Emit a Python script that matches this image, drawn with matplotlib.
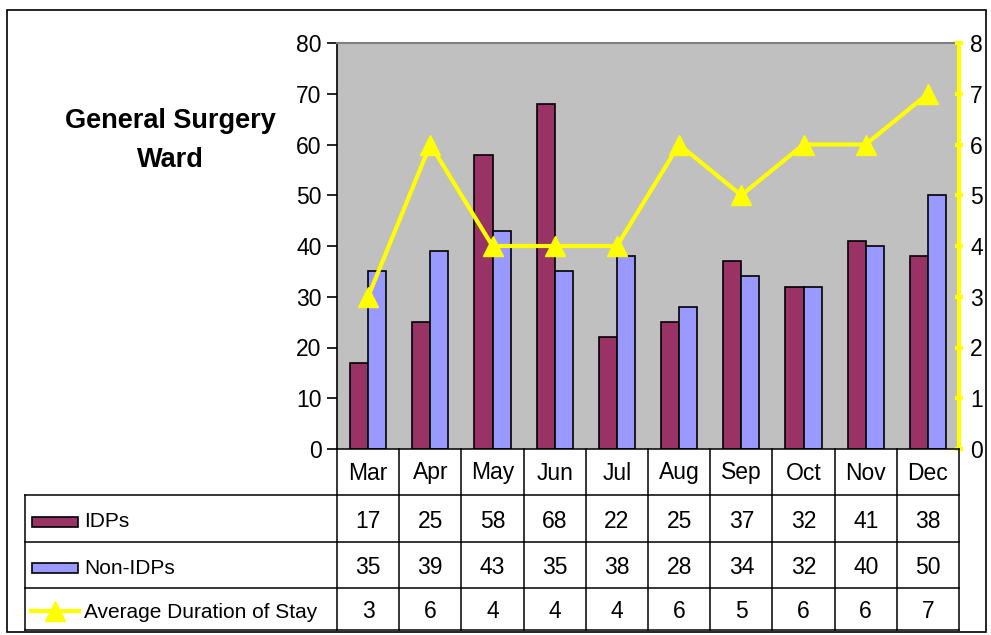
import numpy as np
import matplotlib
matplotlib.use("Agg")
import matplotlib.pyplot as plt
from matplotlib.patches import Rectangle
from matplotlib.lines import Line2D
from matplotlib.transforms import blended_transform_factory

plt.rcParams['font.family'] = ['Liberation Sans', 'DejaVu Sans']

# data
months = ['Mar', 'Apr', 'May', 'Jun', 'Jul', 'Aug', 'Sep', 'Oct', 'Nov', 'Dec']
idps = [17, 25, 58, 68, 22, 25, 37, 32, 41, 38]
non_idps = [35, 39, 43, 35, 38, 28, 34, 32, 40, 50]
avg_stay = [3, 6, 4, 4, 4, 6, 5, 6, 6, 7]

c_idp = '#993366'
c_non = '#9999FF'
c_line = '#FFFF00'

W, H = 991, 635
fig = plt.figure(figsize=(W / 100, H / 100), dpi=100)

def fx(px):
    return px / W
def fy(py):
    return 1 - py / H

# plot area in pixels
x0, x1, y0, y1 = 337, 959, 43, 449
ax = fig.add_axes([fx(x0), fy(y1), fx(x1) - fx(x0), fy(y0) - fy(y1)])
ax.set_facecolor('#C0C0C0')
x = np.arange(len(months))
bw = 0.29
ax.bar(x - bw / 2, idps, bw, color=c_idp, edgecolor='black', lw=1.2, zorder=2)
ax.bar(x + bw / 2, non_idps, bw, color=c_non, edgecolor='black', lw=1.2, zorder=2)
ax.set_xlim(-0.5, len(months) - 0.5)
ax.set_ylim(0, 80)
ax.set_yticks(range(0, 81, 10))
ax.set_xticks([])
ax.tick_params(axis='y', labelsize=16.5, length=7, width=1.2, pad=4)
for s in ['right', 'bottom']:
    ax.spines[s].set_visible(False)
ax.spines['top'].set_color('#808080')
ax.spines['top'].set_linewidth(1.5)
ax.spines['left'].set_linewidth(1.2)

ax2 = ax.twinx()
ax2.plot(x, avg_stay, color=c_line, lw=3, marker='^', ms=15, zorder=3)
ax2.set_ylim(0, 8)
ax2.set_yticks(range(0, 9))
ax2.tick_params(axis='y', labelsize=16.5, length=6, width=3, color=c_line,
                direction='inout', pad=5)
for s in ['left', 'top', 'bottom']:
    ax2.spines[s].set_visible(False)
ax2.spines['right'].set_color(c_line)
ax2.spines['right'].set_linewidth(3)

# title
fig.text(fx(170), fy(140), 'General Surgery\nWard', ha='center', va='center',
         fontsize=19.5, fontweight='bold', linespacing=1.65)

# data table below the chart
tr = blended_transform_factory(ax.transData, fig.transFigure)
row_y = [449, 495, 542, 588, 630]
lab_x = 25

def hline(xa, xb, py):
    fig.add_artist(Line2D([fx(xa), fx(xb)], [fy(py), fy(py)], color='black', lw=1.1))

def vline(px, ya, yb):
    fig.add_artist(Line2D([fx(px), fx(px)], [fy(ya), fy(yb)], color='black', lw=1.1))

hline(x0, x1, row_y[0])
for py in row_y[1:]:
    hline(lab_x, x1, py)
vline(lab_x, row_y[1], row_y[4])
step = (x1 - x0) / len(months)
for i in range(len(months) + 1):
    vline(x0 + i * step, row_y[0], row_y[4])

for i, m in enumerate(months):
    fig.text(i, fy((row_y[0] + row_y[1]) / 2 + 1), m, transform=tr, ha='center',
             va='center', fontsize=16.5)

rows = [('IDPs', idps), ('Non-IDPs', non_idps), ('Average Duration of Stay', avg_stay)]
for r, (name, vals) in enumerate(rows):
    cy = fy((row_y[r + 1] + row_y[r + 2]) / 2 + 3)
    for i, v in enumerate(vals):
        fig.text(i, cy, str(v), transform=tr, ha='center', va='center', fontsize=16.5)
    fig.text(fx(84), cy, name, ha='left', va='center', fontsize=15)

# legend keys
for r, c in enumerate([c_idp, c_non]):
    cy = (row_y[r + 1] + row_y[r + 2]) / 2 + 3
    fig.add_artist(Rectangle((fx(32), fy(cy + 5)), fx(46), fy(cy - 5) - fy(cy + 5),
                             facecolor=c, edgecolor='black', lw=1.2,
                             transform=fig.transFigure))
cy = fy((row_y[3] + row_y[4]) / 2 + 2)
fig.add_artist(Line2D([fx(31), fx(79)], [cy, cy], color=c_line, lw=3))
fig.add_artist(Line2D([fx(55)], [cy], color=c_line, marker='^', ms=15))

# outer frame
fig.add_artist(Rectangle((fx(7), fy(632)), fx(986) - fx(7), fy(10) - fy(632),
                         fill=False, edgecolor='black', lw=1.2,
                         transform=fig.transFigure))

fig.savefig('out.png', dpi=100)
